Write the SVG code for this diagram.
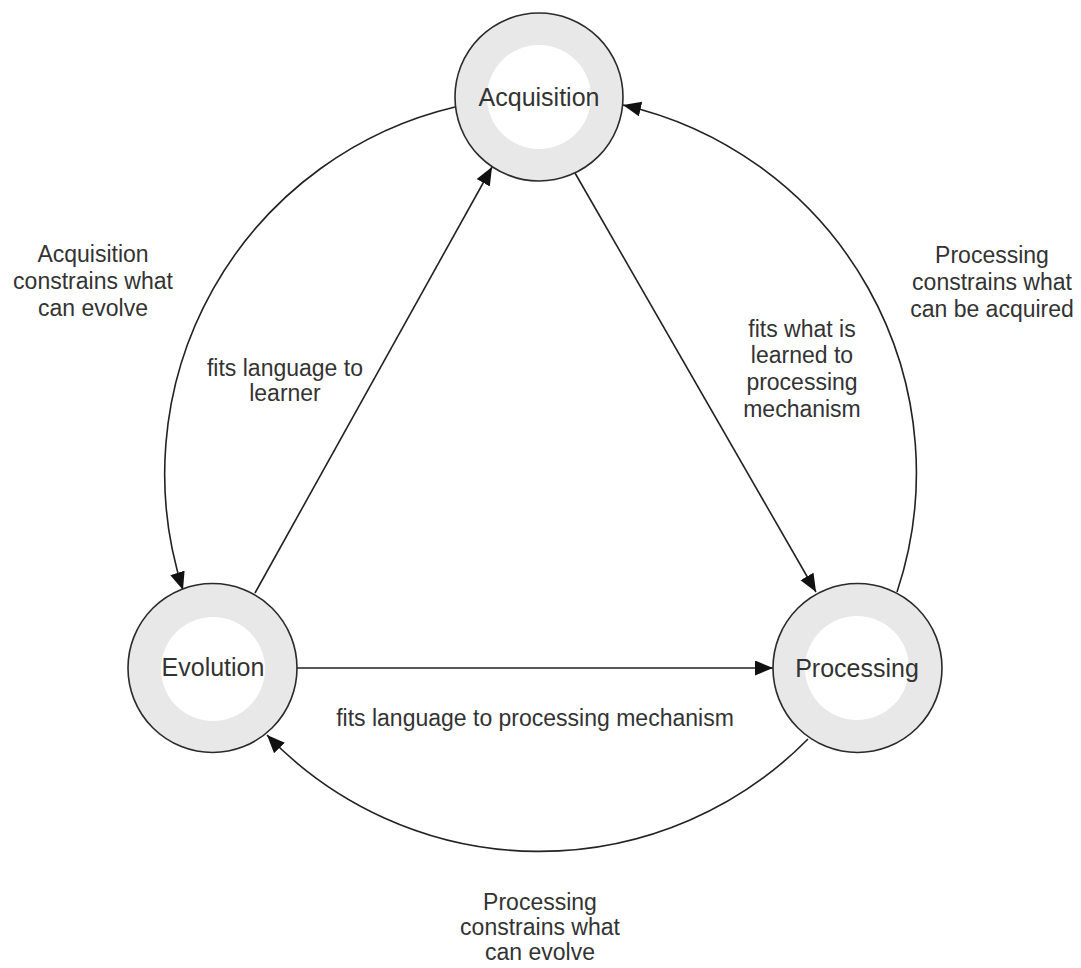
<svg xmlns="http://www.w3.org/2000/svg" width="1081" height="968" viewBox="0 0 1081 968">
<style>
.ring{fill:#e8e8e8;stroke:#2a2a2a;stroke-width:1.6}
.core{fill:#ffffff;stroke:none}
.nlabel{font-family:"Liberation Sans",Arial,sans-serif;font-size:25px;fill:#333;text-anchor:middle}
.elabel{font-family:"Liberation Sans",Arial,sans-serif;font-size:23px;fill:#333;text-anchor:middle}
.edge{fill:none;stroke:#222;stroke-width:1.6;marker-end:url(#arrow)}
</style>
<defs>
<marker id="arrow" markerUnits="userSpaceOnUse" markerWidth="22" markerHeight="18" refX="18" refY="7.5" orient="auto">
<path d="M0,0 L18,7.5 L0,15 z" fill="#111"/>
</marker>
</defs>
<rect width="1081" height="968" fill="#ffffff"/>
<g id="connectors">
<path class="edge" d="M455,107 A377,377 0 0 0 183,590"/>
<path class="edge" d="M897,592 A377,377 0 0 0 623,105"/>
<path class="edge" d="M808,739 A377,377 0 0 1 267,735"/>
<path class="edge" d="M575,173 L816,592"/>
<path class="edge" d="M255,593 L492,167"/>
<path class="edge" d="M297,668 L773,668"/>
</g>
<g id="node-acquisition">
<circle class="ring" cx="539" cy="97" r="84"/>
<circle class="core" cx="539" cy="97" r="52"/>
<text class="nlabel" x="539" y="106">Acquisition</text>
</g>
<g id="node-evolution">
<circle class="ring" cx="212.5" cy="668" r="84.5"/>
<circle class="core" cx="213" cy="669" r="52"/>
<text class="nlabel" x="213" y="676">Evolution</text>
</g>
<g id="node-processing">
<circle class="ring" cx="857.5" cy="668" r="84.5"/>
<circle class="core" cx="857" cy="668" r="52"/>
<text class="nlabel" x="857" y="677">Processing</text>
</g>
<g id="edge-labels">
<text class="elabel" x="93" y="262">Acquisition</text>
<text class="elabel" x="93" y="289">constrains what</text>
<text class="elabel" x="93" y="316">can evolve</text>
<text class="elabel" x="285" y="376">fits language to</text>
<text class="elabel" x="285" y="401">learner</text>
<text class="elabel" x="992" y="263">Processing</text>
<text class="elabel" x="992" y="290">constrains what</text>
<text class="elabel" x="992" y="317">can be acquired</text>
<text class="elabel" x="802" y="337">fits what is</text>
<text class="elabel" x="802" y="363">learned to</text>
<text class="elabel" x="802" y="390">processing</text>
<text class="elabel" x="802" y="417">mechanism</text>
<text class="elabel" x="535" y="726">fits language to processing mechanism</text>
<text class="elabel" x="540" y="910">Processing</text>
<text class="elabel" x="540" y="935">constrains what</text>
<text class="elabel" x="540" y="960">can evolve</text>
</g>
</svg>
